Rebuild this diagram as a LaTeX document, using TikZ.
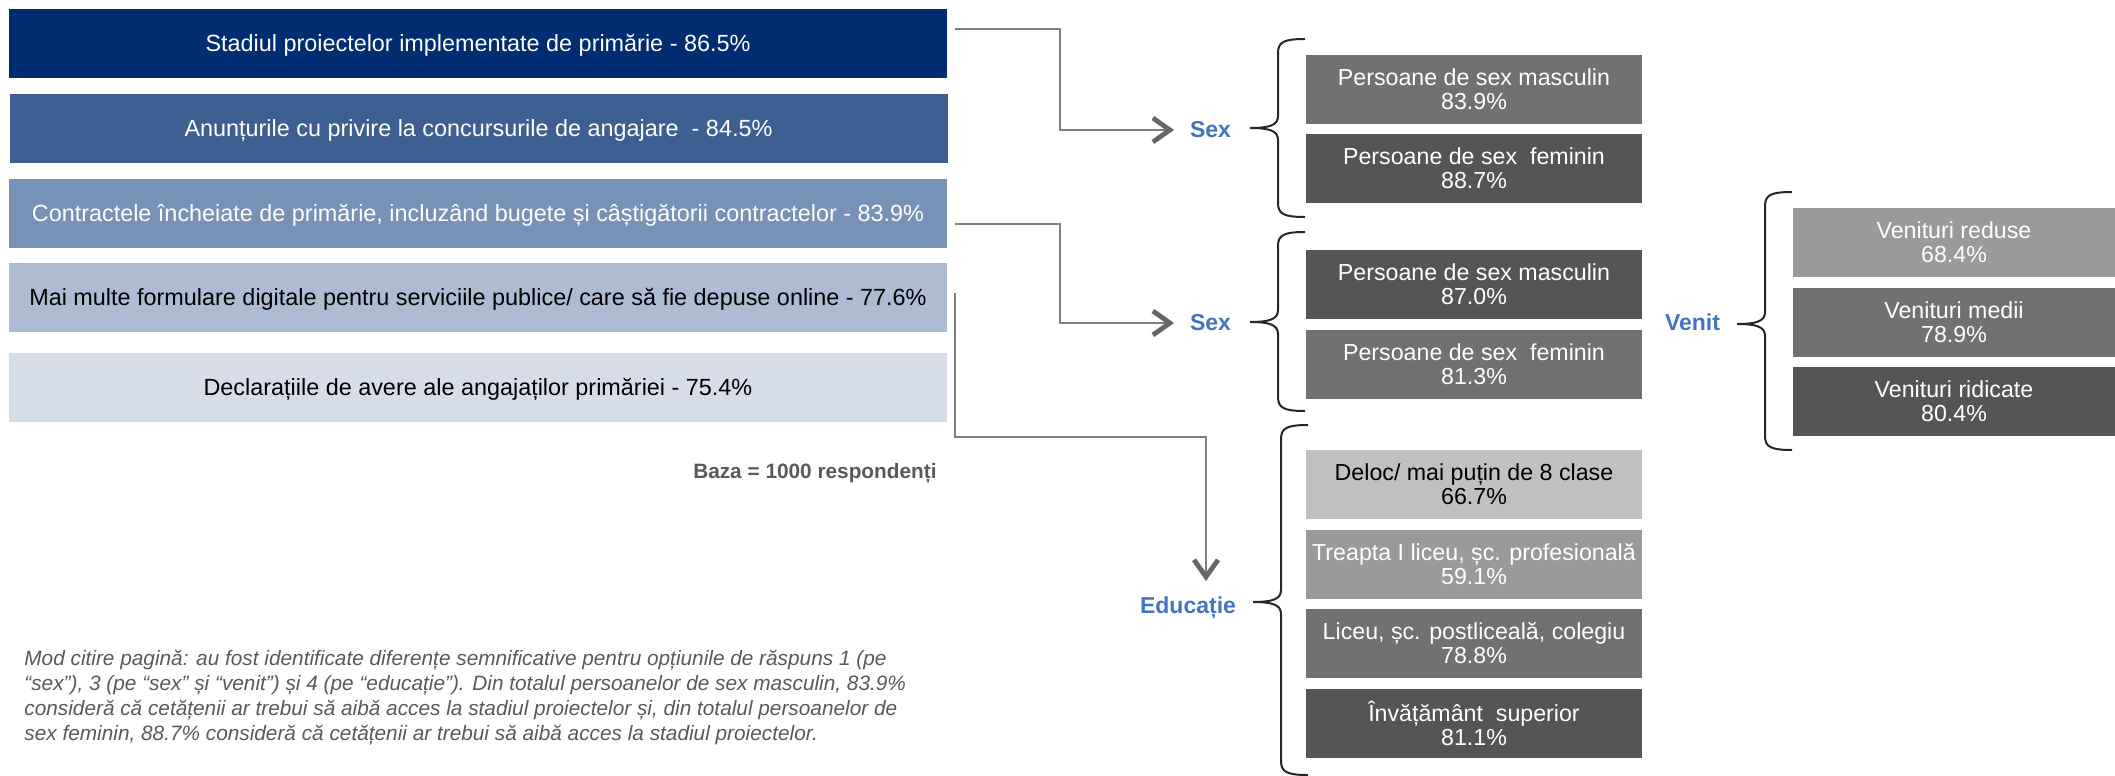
\documentclass[tikz,border=0pt]{standalone}
\usepackage{fontspec}
\setmainfont{Liberation Sans}
\usetikzlibrary{arrows.meta}
\definecolor{bA}{HTML}{002D72}
\definecolor{bB}{HTML}{3E5F92}
\definecolor{bC}{HTML}{7891B6}
\definecolor{bD}{HTML}{ADBBD3}
\definecolor{bE}{HTML}{D6DCE8}
\definecolor{gA}{HTML}{555555}
\definecolor{gB}{HTML}{717171}
\definecolor{gC}{HTML}{9A9A9A}
\definecolor{gD}{HTML}{C0C0C0}
\definecolor{lbl}{HTML}{4472C4}
\definecolor{lin}{HTML}{808080}
\definecolor{tip}{HTML}{666666}
\definecolor{note}{HTML}{595959}
\tikzset{
	bar/.style={minimum width=469pt, minimum height=34.5pt, inner sep=0pt, text height=8.4pt, text depth=0pt, font=\fontsize{11.7}{14}\selectfont},
	cell/.style={minimum width=168pt, minimum height=34.5pt, inner sep=0pt, align=center, text=white, font=\fontsize{11.6}{12}\selectfont},
	vcell/.style={cell, minimum width=161pt},
	group/.style={text=lbl, inner sep=0pt, outer sep=8pt, font=\bfseries\fontsize{11.5}{14}\selectfont},
	conn/.style={draw=lin, line width=1pt, -{Straight Barb[length=8.5pt, width=12pt, line width=2.4pt, color=tip]}},
	brc/.style={draw=black!85, line width=1pt}
}
% #1 spine x, #2 top y, #3 bottom y, #4 tip y
\newcommand{\grpbrace}[4]{%
	\draw[brc] (#1+27,#2) .. controls (#1+6,#2) and (#1,#2+3) .. (#1,#2+14)
		-- (#1,#4-12) .. controls (#1,#4-3) and (#1-8,#4) .. (#1-28,#4)
		.. controls (#1-8,#4) and (#1,#4+3) .. (#1,#4+12)
		-- (#1,#3-14) .. controls (#1,#3-3) and (#1+6,#3) .. (#1+27,#3);}

\begin{document}
\begin{tikzpicture}[x=0.5pt,y=-0.5pt]
	\useasboundingbox (0,0) rectangle (2115,776);

	\node[bar, fill=bA, text=white] (stadiu) at (478,43.5) {Stadiul proiectelor implementate de primărie - 86.5\%};
	\node[bar, fill=bB, text=white] (anunt) at (478.5,128) {Anunțurile cu privire la concursurile de angajare~ - 84.5\%};
	\node[bar, fill=bC, text=white] (contr) at (478,213) {Contractele încheiate de primărie, incluzând bugete și câștigătorii contractelor - 83.9\%};
	\node[bar, fill=bD, text=black] (form) at (478,297.5) {Mai multe formulare digitale pentru serviciile publice/ care să fie depuse online - 77.6\%};
	\node[bar, fill=bE, text=black] (decl) at (478,387.5) {Declarațiile de avere ale angajaților primăriei - 75.4\%};

	\node[anchor=east, inner sep=0pt, text=note, font=\bfseries\fontsize{10.4}{12}\selectfont] (baza) at (937,473) {Baza = 1000 respondenți};

	\node[anchor=north west, inner sep=0pt, align=left, text=note, font=\itshape\fontsize{10.4}{12.4}\selectfont] (mod) at (24,650) {Mod citire pagină: au fost identificate diferențe semnificative pentru opțiunile de răspuns 1 (pe\\“sex”), 3 (pe “sex” și “venit”) și 4 (pe “educație”). Din totalul persoanelor de sex masculin, 83.9\%\\consideră că cetățenii ar trebui să aibă acces la stadiul proiectelor și, din totalul persoanelor de\\sex feminin, 88.7\% consideră că cetățenii ar trebui să aibă acces la stadiul proiectelor.};

	\node[group] (sexA) at (1210.5,130) {Sex};
	\node[group] (sexB) at (1210.5,323) {Sex};
	\node[group] (edu) at (1188,608) {Educație};
	\node[group] (venit) at (1692.5,322.5) {Venit};

	\coordinate (oA) at (955,29);
	\coordinate (oB) at (955,224);
	\coordinate (oC) at (955,293);

	\draw[conn] (oA) -- ++(105,0) |- (sexA);
	\draw[conn] (oB) -- ++(105,0) |- (sexB);
	\draw[conn] (oC) -- ++(0,144) -| ([xshift=9pt]edu.north);

	\grpbrace{1278}{39}{217}{128}
	\grpbrace{1278}{232}{411}{322}
	\grpbrace{1281}{425}{775}{602}
	\grpbrace{1765}{192}{450}{324}

	\node[cell, fill=gB] (mA) at (1474,89) {Persoane de sex masculin\\83.9\%};
	\node[cell, fill=gA] (fA) at (1474,168.5) {Persoane de sex~ feminin\\88.7\%};
	\node[cell, fill=gA] (mB) at (1474,284.5) {Persoane de sex masculin\\87.0\%};
	\node[cell, fill=gB] (fB) at (1474,364.5) {Persoane de sex~ feminin\\81.3\%};

	\node[cell, fill=gD, text=black] (eA) at (1474,484.5) {Deloc/ mai puțin de 8 clase\\66.7\%};
	\node[cell, fill=gC] (eB) at (1474,564.5) {Treapta I liceu, șc. profesională\\59.1\%};
	\node[cell, fill=gB] (eC) at (1474,643.5) {Liceu, șc. postliceală, colegiu\\78.8\%};
	\node[cell, fill=gA] (eD) at (1474,723.5) {Învățământ~ superior\\81.1\%};

	\node[vcell, fill=gC] (vA) at (1954,242) {Venituri reduse\\68.4\%};
	\node[vcell, fill=gB] (vB) at (1954,322) {Venituri medii\\78.9\%};
	\node[vcell, fill=gA] (vC) at (1954,401) {Venituri ridicate\\80.4\%};
\end{tikzpicture}
\end{document}
